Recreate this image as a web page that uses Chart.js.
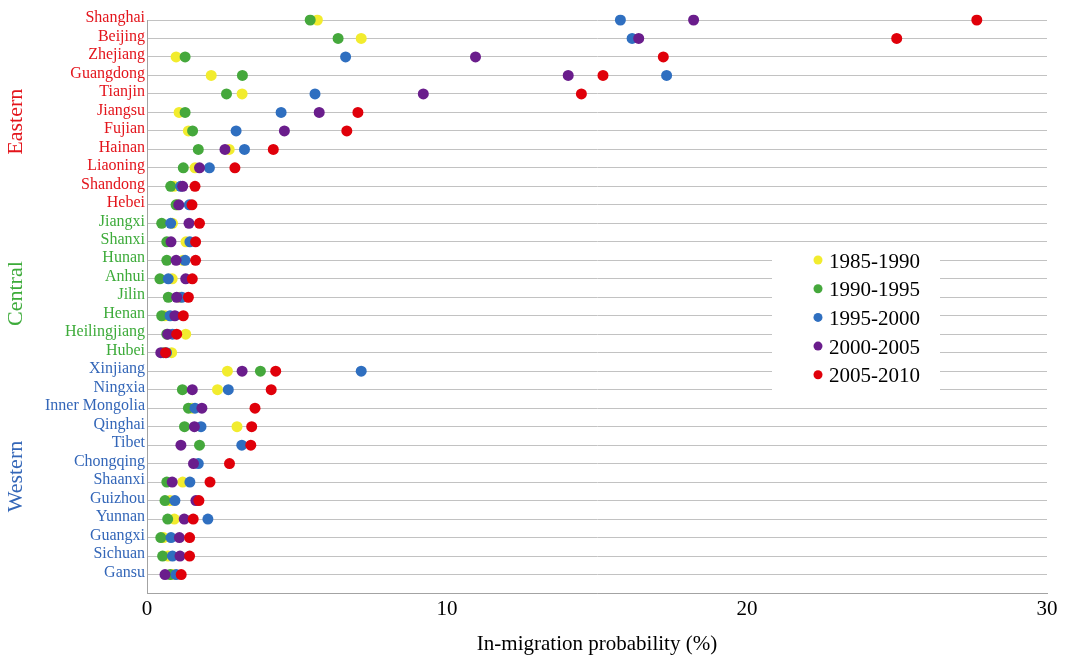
<!DOCTYPE html>
<html>
<head>
<meta charset="utf-8">
<script src="https://cdn.jsdelivr.net/npm/chart.js@4.4.1/dist/chart.umd.min.js"></script>
<style>
  html, body { margin: 0; padding: 0; background: #fff; }
  #wrap { width: 1065px; height: 658px; position: relative; }
</style>
</head>
<body>
<div id="wrap"><canvas id="migrationChart"></canvas></div>
<script>
// provinces, top to bottom
const provinces = ['Shanghai', 'Beijing', 'Zhejiang', 'Guangdong', 'Tianjin', 'Jiangsu', 'Fujian', 'Hainan', 'Liaoning', 'Shandong', 'Hebei',
    'Jiangxi', 'Shanxi', 'Hunan', 'Anhui', 'Jilin', 'Henan', 'Heilingjiang', 'Hubei',
    'Xinjiang', 'Ningxia', 'Inner Mongolia', 'Qinghai', 'Tibet', 'Chongqing', 'Shaanxi', 'Guizhou', 'Yunnan', 'Guangxi', 'Sichuan', 'Gansu'];
const regionSizes = [11, 8, 12];
const regionNames = ['Eastern', 'Central', 'Western'];
const regionColors = ['#e3141b', '#3dab3a', '#3366b8'];

const periods = ['1985-1990', '1990-1995', '1995-2000', '2000-2005', '2005-2010'];
const periodColors = ['#f2ec2e', '#45a83c', '#2f6fc0', '#6a1d8c', '#e0000a'];

// in-migration probability (%)
const p1985 = [5.68, 7.14, 0.97, 2.14, 3.17, 1.07, 1.38, 2.74, 1.6, 0.9, 1.0,
    0.85, 1.3, 1.2, 0.84, 1.1, 0.6, 1.29, 0.82,
    2.68, 2.35, 1.5, 3.0, null, null, 1.19, 0.77, 0.91, 0.55, 0.7, 0.85];
const p1990 = [5.44, 6.37, 1.27, 3.18, 2.65, 1.27, 1.52, 1.71, 1.21, 0.79, 0.97,
    0.49, 0.66, 0.66, 0.43, 0.71, 0.49, 0.66, 0.55,
    3.78, 1.18, 1.38, 1.25, 1.75, null, 0.66, 0.6, 0.69, 0.46, 0.52, 0.77];
const p1995 = [15.78, 16.17, 6.62, 17.32, 5.6, 4.47, 2.97, 3.25, 2.08, 1.12, 1.41,
    0.79, 1.43, 1.27, 0.71, 1.16, 0.77, 0.85, 0.65,
    7.14, 2.71, 1.6, 1.8, 3.16, 1.71, 1.43, 0.93, 2.03, 0.8, 0.85, 0.97];
const p2000 = [18.22, 16.39, 10.95, 14.04, 9.21, 5.74, 4.58, 2.6, 1.75, 1.19, 1.06,
    1.4, 0.8, 0.97, 1.29, 0.99, 0.93, 0.69, 0.46,
    3.17, 1.51, 1.83, 1.58, 1.13, 1.55, 0.84, 1.63, 1.24, 1.08, 1.1, 0.6];
const p2005 = [27.66, 24.99, 17.21, 15.2, 14.48, 7.03, 6.66, 4.21, 2.93, 1.6, 1.5,
    1.75, 1.62, 1.62, 1.51, 1.38, 1.21, 0.99, 0.62,
    4.29, 4.14, 3.6, 3.49, 3.46, 2.75, 2.1, 1.73, 1.54, 1.42, 1.42, 1.14];
const seriesValues = [p1985, p1990, p1995, p2000, p2005];

const xTicks = [0, 10, 20, 30];

const serif = '"Liberation Serif", "Times New Roman", serif';

function regionIndex(i) {
    let acc = 0;
    for (let r = 0; r < regionSizes.length; r++) {
        acc += regionSizes[r];
        if (i < acc) return r;
    }
    return -1;
}

// region captions, rotated, left of the province names
const regionCaptions = {
    id: 'regionCaptions',
    afterDraw(chart) {
        const ctx = chart.ctx;
        const y = chart.scales.y;
        const centers = [5.5, 14.8, 24.7];
        ctx.save();
        ctx.font = '22px ' + serif;
        ctx.textAlign = 'center';
        ctx.textBaseline = 'middle';
        regionNames.forEach((name, r) => {
            ctx.save();
            ctx.translate(16, y.getPixelForValue(centers[r]));
            ctx.rotate(-Math.PI / 2);
            ctx.fillStyle = regionColors[r];
            ctx.fillText(name, 0, 0);
            ctx.restore();
        });
        ctx.restore();
    }
};

// legend box sitting inside the plot
const boxLegend = {
    id: 'boxLegend',
    afterDraw(chart) {
        const ctx = chart.ctx;
        ctx.save();
        ctx.fillStyle = '#fff';
        ctx.fillRect(772, 247, 168, 146);
        ctx.font = '21px ' + serif;
        ctx.textAlign = 'left';
        ctx.textBaseline = 'middle';
        chart.data.datasets.forEach((ds, i) => {
            const yy = 262 + i * 28.7;
            ctx.fillStyle = ds.backgroundColor;
            ctx.beginPath();
            ctx.arc(818, yy - 2, 4.5, 0, Math.PI * 2);
            ctx.fill();
            ctx.fillStyle = '#000';
            ctx.fillText(ds.label, 829, yy);
        });
        ctx.restore();
    }
};

const ctx = document.getElementById('migrationChart').getContext('2d');
const migrationChart = new Chart(ctx, {
    type: 'line',
    data: {
        labels: provinces.concat(['']),
        datasets: periods.map((p, i) => ({
            label: p,
            data: seriesValues[i],
            backgroundColor: periodColors[i],
            borderColor: periodColors[i],
            showLine: false,
            pointRadius: 5.5,
            pointBorderWidth: 0,
            pointHoverRadius: 5.5,
            order: periods.length - i
        }))
    },
    options: {
        indexAxis: 'y',
        responsive: true,
        maintainAspectRatio: false,
        animation: false,
        layout: {
            padding: { left: 0, top: 20, right: 18, bottom: 0 }
        },
        scales: {
            x: {
                type: 'linear',
                min: 0,
                max: 30,
                afterFit: (scale) => { scale.height = 65; },
                afterBuildTicks: (scale) => { scale.ticks = xTicks.map(v => ({ value: v })); },
                grid: { display: false },
                border: { display: true, color: '#a3a3a3', width: 1 },
                ticks: {
                    color: '#000',
                    padding: -4,
                    font: { size: 21, family: serif }
                },
                title: {
                    display: true,
                    text: 'In-migration probability (%)',
                    color: '#000',
                    padding: { top: 0, bottom: 1 },
                    font: { size: 21, family: serif }
                }
            },
            y: {
                type: 'category',
                offset: false,
                afterFit: (scale) => { scale.width = 147; },
                grid: {
                    color: '#c2c2c2',
                    lineWidth: 1,
                    drawTicks: false
                },
                border: { display: true, color: '#a3a3a3', width: 1 },
                ticks: {
                    autoSkip: false,
                    padding: 2,
                    labelOffset: -2,
                    color: (c) => regionColors[regionIndex(c.index)] || '#000',
                    font: { size: 16, family: serif }
                }
            }
        },
        plugins: {
            legend: { display: false },
            tooltip: { enabled: false }
        }
    },
    plugins: [regionCaptions, boxLegend]
});
</script>
</body>
</html>
